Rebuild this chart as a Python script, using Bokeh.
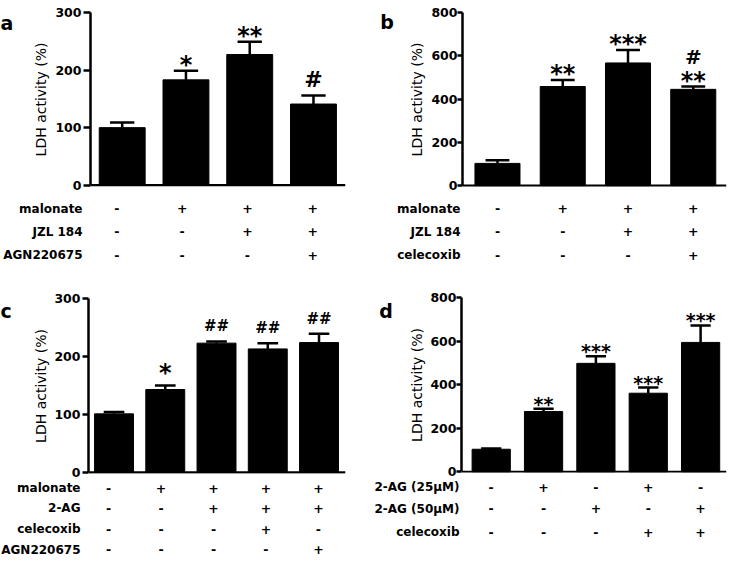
from bokeh.plotting import figure
from bokeh.models import Range1d, FixedTicker, Span, ColumnDataSource
from bokeh.layouts import row, column
from bokeh.embed import file_html
from bokeh.resources import INLINE
from bokeh.core.properties import value

# ---------------- data ----------------
a_values = [100, 183, 227, 141]
a_errors = [9, 16, 22, 15]
a_rows = ["malonate", "JZL 184", "AGN220675"]
a_signs = [["-", "+", "+", "+"],
           ["-", "-", "+", "+"],
           ["-", "-", "-", "+"]]
a_stars = ["", "*", "**", ""]
a_hashes = ["", "", "", "#"]
a_ticks = [0, 100, 200, 300]

b_values = [103, 458, 567, 445]
b_errors = [14, 30, 60, 13]
b_rows = ["malonate", "JZL 184", "celecoxib"]
b_signs = [["-", "+", "+", "+"],
           ["-", "-", "+", "+"],
           ["-", "-", "-", "+"]]
b_stars = ["", "**", "***", "**"]
b_hashes = ["", "", "", "#"]
b_ticks = [0, 200, 400, 600, 800]

c_values = [101, 143, 223, 213, 224]
c_errors = [3, 7, 3, 10, 15]
c_rows = ["malonate", "2-AG", "celecoxib", "AGN220675"]
c_signs = [["-", "+", "+", "+", "+"],
           ["-", "-", "+", "+", "+"],
           ["-", "-", "-", "+", "-"],
           ["-", "-", "-", "-", "+"]]
c_stars = ["", "*", "", "", ""]
c_hashes = ["", "", "##", "##", "##"]
c_ticks = [0, 100, 200, 300]

d_values = [104, 277, 498, 361, 594]
d_errors = [4, 13, 33, 26, 78]
d_rows = ["2-AG (25µM)", "2-AG (50µM)", "celecoxib"]
d_signs = [["-", "+", "-", "+", "-"],
           ["-", "-", "+", "-", "+"],
           ["-", "-", "-", "+", "+"]]
d_stars = ["", "**", "***", "***", "***"]
d_hashes = ["", "", "", "", ""]
d_ticks = [0, 200, 400, 600, 800]

# ---------------- layout helpers ----------------
SX = 727 / 743
SY = 558 / 574
FONT = "DejaVu Sans"
LW = 30  # width of the strip holding the panel letter


def bare(fig):
    fig.outline_line_color = None
    fig.grid.visible = False
    fig.background_fill_color = "white"
    fig.border_fill_color = "white"
    fig.min_border = 0
    return fig


def make_panel(W, H, geo, letter, values, errors, rows, signs, stars, hashes,
               ticks, style):
    axis_px = round(geo["axis_x"] * SX)
    right_px = round(geo["right"] * SX)
    ft = round(geo["top"] * SY)
    zero = geo["zero"] * SY
    hc = round(zero) + 8
    fb = round(zero) + 1
    ymax = ticks[-1]
    upp = ymax / (zero - ft)
    ymin = -(fb - zero) * upp
    spacing = geo["spacing"] * SX
    c0 = geo["c0"] * SX
    x0 = -(c0 - axis_px) / spacing
    x1 = x0 + (right_px - axis_px) / spacing

    # --- letter strip ---
    pl = bare(figure(width=LW, height=hc, x_range=Range1d(0, LW),
                     y_range=Range1d(hc, 0), output_backend="svg",
                     toolbar_location=None, x_axis_location=None,
                     y_axis_location=None))
    pl.min_border = 0
    pl.text(x=[geo["let_x"] * SX], y=[geo["let_y"] * SY], text=[letter],
            text_align="left", text_baseline="middle", text_font=value(FONT),
            text_font_style="bold", text_font_size="19px", text_color="black")

    # --- chart ---
    p = figure(width=W - LW, height=hc, x_range=Range1d(x0, x1),
               y_range=Range1d(ymin, ymax), output_backend="svg",
               toolbar_location=None, x_axis_location=None)
    bare(p)
    p.min_border_left = axis_px - LW
    p.min_border_right = W - right_px
    p.min_border_top = ft
    p.min_border_bottom = hc - fb

    ax = p.yaxis[0]
    ax.ticker = FixedTicker(ticks=ticks)
    ax.bounds = (0, ymax)
    ax.axis_line_width = 2.5
    ax.axis_line_color = "black"
    ax.major_tick_line_width = 2.5
    ax.major_tick_line_color = "black"
    ax.major_tick_out = style["tick"]
    ax.major_tick_in = 0
    ax.minor_tick_line_color = None
    ax.major_label_standoff = style["tstand"]
    ax.major_label_text_font = FONT
    ax.major_label_text_font_style = "bold"
    ax.major_label_text_font_size = "12.5px"
    ax.major_label_text_color = "black"
    ax.axis_label = "LDH activity (%)"
    ax.axis_label_text_font = FONT
    ax.axis_label_text_font_style = "normal"
    ax.axis_label_text_font_size = "14px"
    ax.axis_label_text_color = "black"
    ax.axis_label_standoff = style["lstand"]

    p.add_layout(Span(location=0, dimension="width", line_color="black",
                      line_width=2.5))

    n = len(values)
    xs = list(range(n))
    bw = style["bw"]
    cw = bw * 0.53
    tops = [v + e for v, e in zip(values, errors)]
    src = ColumnDataSource(dict(x=xs, top=values, etop=tops,
                                cl=[x - cw / 2 for x in xs],
                                cr=[x + cw / 2 for x in xs]))
    p.vbar(x="x", top="top", bottom=0, width=bw, source=src,
           fill_color="black", line_color="black", line_width=1)
    p.segment(x0="x", y0="top", x1="x", y1="etop", source=src,
              line_color="black", line_width=2.5)
    p.segment(x0="cl", y0="etop", x1="cr", y1="etop", source=src,
              line_color="black", line_width=2.5)

    for marks, size, off in ((stars, style["star_size"], style["star_off"]),
                             (hashes, style["hash_size"], style["hash_off"])):
        mx = [x for x, s in zip(xs, marks) if s]
        if mx:
            p.text(x=mx, y=[t for t, s in zip(tops, marks) if s],
                   text=[s for s in marks if s], text_align="center",
                   text_baseline="middle", y_offset=off,
                   text_font=value(FONT), text_font_style="bold",
                   text_font_size=size, text_color="black")

    # --- treatment table ---
    ht = H - hc
    tx0 = -c0 / spacing
    tx1 = (W - c0) / spacing
    pt = bare(figure(width=W, height=ht, x_range=Range1d(tx0, tx1),
                     y_range=Range1d(ht, 0), output_backend="svg",
                     toolbar_location=None, x_axis_location=None,
                     y_axis_location=None))
    pt.min_border = 0
    lab_x = (axis_px - 2 - c0) / spacing
    for ry, label, srow in zip(geo["rows"], rows, signs):
        yy = min(max(ry * SY - hc, 7.5), ht - 7.5)
        pt.text(x=xs, y=[yy] * n, text=srow, text_align="center",
                text_baseline="middle", text_font=value(FONT),
                text_font_style="bold", text_font_size="12.5px",
                text_color="black")
        pt.text(x=[lab_x], y=[yy], text=[label], text_align="right",
                text_baseline="middle", text_font=value(FONT),
                text_font_style="bold", text_font_size="12px",
                text_color="black")

    return column(row(pl, p, spacing=0), pt, spacing=0)


geo_a = dict(axis_x=86, right=353, top=12, zero=190, c0=119, spacing=66.7,
             rows=[214, 238, 262], let_x=0, let_y=12)
geo_b = dict(axis_x=100, right=370, top=12, zero=190.5, c0=135.9,
             spacing=66.7, rows=[214, 238, 262], let_x=16, let_y=11)
geo_c = dict(axis_x=84, right=353, top=21.5, zero=200.5, c0=110.5,
             spacing=53.6, rows=[216.5, 237.5, 259, 280], let_x=0, let_y=15)
geo_d = dict(axis_x=99, right=370, top=20.7, zero=200, c0=129.5,
             spacing=53.5, rows=[214, 238, 262], let_x=15, let_y=16)

WL, WR = 364, 363
HT, HB = 277, 281

pa = make_panel(WL, HT, geo_a, "a", a_values, a_errors, a_rows, a_signs,
                a_stars, a_hashes, a_ticks,
                dict(bw=0.72, star_size="24px", star_off=-6,
                     hash_size="22px", hash_off=-16,
                     tick=7, tstand=2, lstand=3))
pb = make_panel(WR, HT, geo_b, "b", b_values, b_errors, b_rows, b_signs,
                b_stars, b_hashes, b_ticks,
                dict(bw=0.69, star_size="24px", star_off=-6,
                     hash_size="20px", hash_off=-30,
                     tick=5, tstand=0, lstand=3))
pc = make_panel(WL, HB, geo_c, "c", c_values, c_errors, c_rows, c_signs,
                c_stars, c_hashes, c_ticks,
                dict(bw=0.76, star_size="24px", star_off=-12,
                     hash_size="15px", hash_off=-15,
                     tick=6, tstand=2, lstand=2))
pd_ = make_panel(WR, HB, geo_d, "d", d_values, d_errors, d_rows, d_signs,
                 d_stars, d_hashes, d_ticks,
                 dict(bw=0.73, star_size="19px", star_off=-5,
                      hash_size="15px", hash_off=-8,
                      tick=5, tstand=0, lstand=2))

layout = column(row(pa, pb, spacing=0), row(pc, pd_, spacing=0), spacing=0)

open("out.html", "w").write(file_html(layout, INLINE))
